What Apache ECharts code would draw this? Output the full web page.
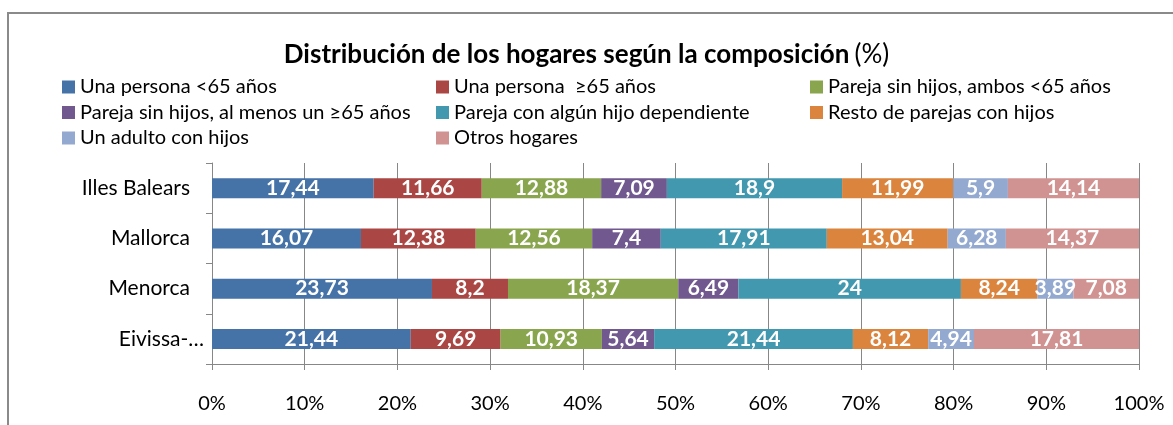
<!DOCTYPE html>
<html><head><meta charset="utf-8">
<script src="https://cdn.jsdelivr.net/npm/echarts@6/dist/echarts.min.js"></script>
<style>html,body{margin:0;padding:0;background:#fff}#c{width:1173px;height:425px}</style>
</head><body><div id="c"></div>
<script>
const categories = ['Illes Balears', 'Mallorca', 'Menorca', 'Eivissa-…'];
const seriesNames = [
  'Una persona <65 años',
  'Una persona  ≥65 años',
  'Pareja sin hijos, ambos <65 años',
  'Pareja sin hijos, al menos un ≥65 años',
  'Pareja con algún hijo dependiente',
  'Resto de parejas con hijos',
  'Un adulto con hijos',
  'Otros hogares'
];
const unaPersonaMenor65 = [17.44, 16.07, 23.73, 21.44];
const unaPersonaMayor65 = [11.66, 12.38, 8.2, 9.69];
const parejaSinHijosMenor65 = [12.88, 12.56, 18.37, 10.93];
const parejaSinHijosMayor65 = [7.09, 7.4, 6.49, 5.64];
const parejaHijoDependiente = [18.9, 17.91, 24, 21.44];
const restoParejasHijos = [11.99, 13.04, 8.24, 8.12];
const adultoConHijos = [5.9, 6.28, 3.89, 4.94];
const otrosHogares = [14.14, 14.37, 7.08, 17.81];
const tickLabels = ['0%','10%','20%','30%','40%','50%','60%','70%','80%','90%','100%'];

const values = [unaPersonaMenor65, unaPersonaMayor65, parejaSinHijosMenor65, parejaSinHijosMayor65,
  parejaHijoDependiente, restoParejasHijos, adultoConHijos, otrosHogares];
const colors = ['#4572A7','#AA4643','#89A54E','#71588F','#4198AF','#DB843D','#93A9CF','#D19392'];
const FONT = 'Lato';
const gridColor = '#878787';

function legendCol(left, idxs) {
  return {
    orient: 'vertical', left: left, top: 76, padding: 0, itemWidth: 13, itemHeight: 13, itemGap: 3.5,
    icon: 'rect', data: idxs.map(i => seriesNames[i]), selectedMode: false,
    textStyle: { fontFamily: FONT, fontSize: 20, color: '#000', lineHeight: 22 }
  };
}

const chart = echarts.init(document.getElementById('c'), null, { renderer: 'canvas' });
chart.setOption({
  animation: false,
  color: colors,
  graphic: [{
    type: 'rect', shape: { x: 8, y: 13, width: 1300, height: 600 },
    style: { fill: 'none', stroke: '#8a8a8a', lineWidth: 2 }, silent: true, z: 100
  }],
  title: {
    text: '{b|Distribución de los hogares según la composición} {n|(%)}',
    left: 'center', top: 37,
    textStyle: {
      rich: {
        b: { fontFamily: FONT, fontSize: 26, fontWeight: 'bold', color: '#000' },
        n: { fontFamily: FONT, fontSize: 26, fontWeight: 'normal', color: '#000' }
      }
    }
  },
  legend: [legendCol(62, [0, 3, 6]), legendCol(436, [1, 4, 7]), legendCol(810, [2, 5])],
  grid: { left: 212, right: 34, top: 163, bottom: 61, containLabel: false },
  xAxis: {
    type: 'value', min: 0, max: 100, interval: 10,
    axisLine: { show: true, lineStyle: { color: gridColor, width: 1 } },
    axisTick: { show: true, length: 6, lineStyle: { color: gridColor } },
    splitLine: { show: true, lineStyle: { color: gridColor, width: 1 } },
    axisLabel: {
      margin: 30, fontFamily: FONT, fontSize: 20, color: '#000',
      formatter: v => tickLabels[Math.round(v / 10)]
    }
  },
  yAxis: {
    type: 'category', data: categories, inverse: true,
    axisLine: { show: true, lineStyle: { color: gridColor, width: 1 } },
    axisTick: { show: true, length: 6, lineStyle: { color: gridColor } },
    axisLabel: {
      margin: 8, fontFamily: FONT, fontSize: 21, color: '#000',
      formatter: v => v === categories[3] ? v : '{p|' + v + '}',
      rich: { p: { fontFamily: FONT, fontSize: 21, color: '#000', padding: [0, 14, 0, 0] } }
    }
  },
  series: seriesNames.map((name, i) => ({
    name: name, type: 'bar', stack: 'total', barWidth: 20,
    data: values[i],
    itemStyle: { color: colors[i] },
    label: {
      show: true, position: 'inside', color: '#fff', fontFamily: FONT,
      fontSize: 21, fontWeight: 'bold',
      formatter: p => String(p.value).replace('.', ',')
    }
  }))
});
</script></body></html>
